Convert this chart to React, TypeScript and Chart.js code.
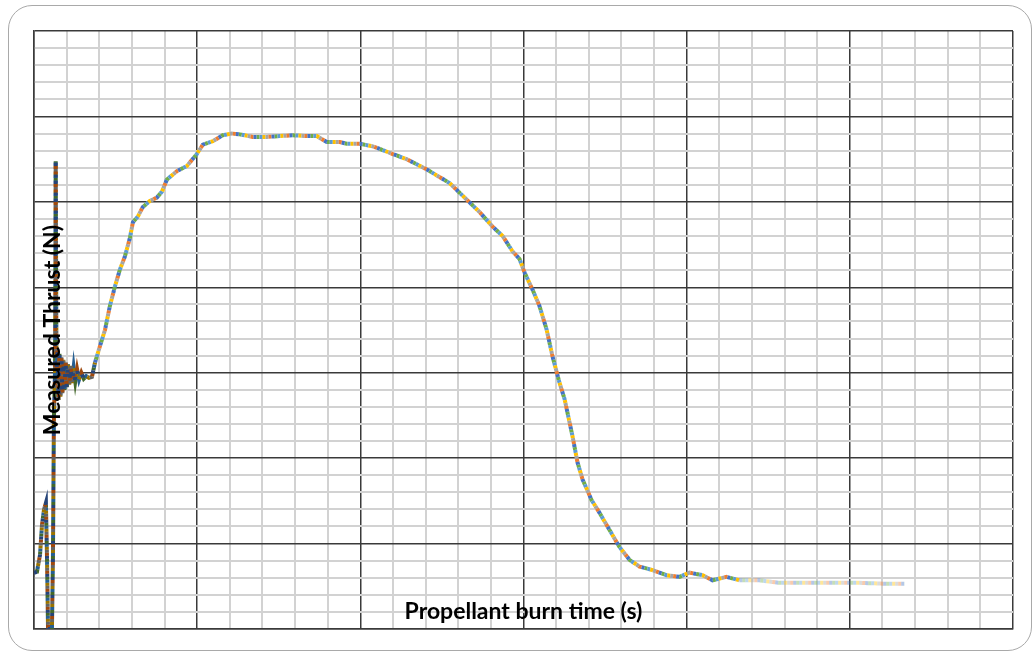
import React, { useEffect, useRef } from "react";
import { Chart, registerables } from "chart.js";

Chart.register(...registerables);

// Propellant burn time (s) (major grid = 1 unit, minor = 0.2)
const burnTime = [
  0, 0.018, 0.037, 0.049, 0.061, 0.073, 0.08, 0.086, 0.098, 0.11, 0.116, 0.122, 0.129, 0.133, 0.138,
  0.144, 0.15, 0.156, 0.162, 0.168, 0.174, 0.18, 0.187, 0.194, 0.201, 0.208, 0.216, 0.224, 0.233,
  0.243, 0.253, 0.264, 0.276, 0.29, 0.305, 0.32, 0.337, 0.355, 0.374, 0.404, 0.435, 0.465, 0.496,
  0.527, 0.557, 0.588, 0.606, 0.637, 0.667,
  0.71, 0.753, 0.784, 0.814, 0.876, 0.937, 0.998, 1.035, 1.096, 1.157, 1.212, 1.261, 1.341, 1.427,
  1.506, 1.586, 1.672, 1.733, 1.794, 1.874, 1.917, 1.996, 2.076, 2.119, 2.198, 2.284, 2.407, 2.547,
  2.731, 2.811, 2.872, 2.933, 2.976, 3.007, 3.056, 3.098, 3.141, 3.178, 3.221, 3.252, 3.301, 3.331,
  3.362, 3.417, 3.466, 3.527, 3.588, 3.65, 3.711, 3.791, 3.876, 3.956, 4.017, 4.097, 4.158, 4.244,
  4.323, 4.446, 4.568, 4.734, 4.893, 5.058, 5.223, 5.334,
];

// Measured thrust (N)
const thrust = [
  0.657, 0.668, 0.868, 1.219, 1.395, 1.477, 0.809, 0, 0, 0, 0.809, 2.45, 3.036, 5.475, 3.036,
  3.26, 2.68, 3.22, 2.72, 3.18, 2.76, 3.15, 2.8, 3.12, 2.83, 3.1, 2.86, 3.08, 2.88,
  3.06, 2.9, 3.04, 2.92, 3.0, 2.93, 2.96, 2.94, 2.95, 3.12, 3.31, 3.5, 3.78, 4.01,
  4.21, 4.36, 4.58, 4.76, 4.83, 4.94,
  5.01, 5.05, 5.12, 5.26, 5.36, 5.42, 5.56, 5.67, 5.71, 5.78, 5.8, 5.79, 5.76, 5.76,
  5.77, 5.78, 5.77, 5.77, 5.7, 5.7, 5.68, 5.68, 5.65, 5.62, 5.56, 5.5, 5.38, 5.22,
  4.88, 4.71, 4.6, 4.42, 4.33, 4.17, 3.97, 3.78, 3.51, 3.19, 2.88, 2.69, 2.25, 1.95,
  1.75, 1.51, 1.36, 1.16, 0.96, 0.81, 0.73, 0.69, 0.63, 0.61, 0.66, 0.63, 0.57, 0.61,
  0.57, 0.57, 0.54, 0.54, 0.54, 0.54, 0.53, 0.53,
];

const xTitle = "Propellant burn time (s)";
const yTitle = "Measured Thrust (N)";

const seriesColors = ["#4472C4", "#ED7D31", "#A5A5A5", "#FFC000", "#5B9BD5", "#70AD47"];
const darkColors = ["#264478", "#9E480E", "#636363", "#997300", "#255E91", "#43682B"];

function fade(hex: string, a: number) {
  const n = parseInt(hex.slice(1), 16);
  return `rgba(${(n >> 16) & 255},${(n >> 8) & 255},${n & 255},${a})`;
}

const titlePlugin = {
  id: "inlineTitles",
  afterDatasetsDraw(chart: any) {
    const { ctx, chartArea: a } = chart;
    ctx.save();
    ctx.fillStyle = "#000";
    ctx.textAlign = "center";
    ctx.textBaseline = "middle";
    ctx.font = "bold 20px Lato";
    const w = ctx.measureText(xTitle).width;
    const size = (20 * 238) / w;
    ctx.font = `bold ${size}px Lato`;
    ctx.fillText(xTitle, (a.left + a.right) / 2, 612);
    ctx.translate(53, (a.top + a.bottom) / 2);
    ctx.rotate(-Math.PI / 2);
    ctx.fillText(yTitle, 0, 0);
    ctx.restore();
  },
};

export default function App() {
  const ref = useRef<HTMLCanvasElement>(null);
  useEffect(() => {
    const points = burnTime.map((t, i) => ({ x: t, y: thrust[i] }));
    const datasets = seriesColors.map((c, i) => ({
      data: points,
      borderColor: c,
      borderWidth: 4,
      borderDash: [3, 15],
      borderDashOffset: i * 3,
      borderCapStyle: "butt" as const,
      pointRadius: 0,
      tension: 0,
      segment: {
        borderColor: (ctx: any) => {
          const x = ctx.p0.parsed.x;
          if (x < 0.36) return darkColors[i];
          if (x > 4.3) return fade(c, 0.4);
          return c;
        },
      },
    }));
    const grid = {
      drawTicks: false,
      color: (ctx: any) => (ctx.index % 5 === 0 ? "#3a3a3a" : "#d2d2d2"),
      lineWidth: (ctx: any) => (ctx.index % 5 === 0 ? 1.5 : 2),
    };
    const chart = new Chart(ref.current!, {
      type: "line",
      data: { datasets },
      options: {
        animation: false,
        responsive: false,
        layout: { padding: { left: 34, top: 31, right: 20, bottom: 25 } },
        plugins: { legend: { display: false }, tooltip: { enabled: false } },
        scales: {
          x: {
            type: "linear",
            min: 0,
            max: 6,
            ticks: { display: false, stepSize: 0.2 },
            grid,
            border: { display: true, color: "#3a3a3a", width: 1.5 },
          },
          y: {
            type: "linear",
            min: 0,
            max: 7,
            ticks: { display: false, stepSize: 0.2 },
            grid,
            border: { display: true, color: "#3a3a3a", width: 1.5 },
          },
        },
      },
      plugins: [titlePlugin],
    });
    return () => chart.destroy();
  }, []);
  return (
    <div style={{ position: "fixed", left: 0, top: 0, width: 1033, height: 654, background: "#fff" }}>
      <div
        style={{
          position: "absolute",
          left: 8,
          top: 5,
          width: 1024,
          height: 646,
          border: "1px solid #a9a9a9",
          borderRadius: 24,
          boxSizing: "border-box",
        }}
      />
      <canvas ref={ref} width={1033} height={654} style={{ position: "absolute", left: 0, top: 0 }} />
    </div>
  );
}
